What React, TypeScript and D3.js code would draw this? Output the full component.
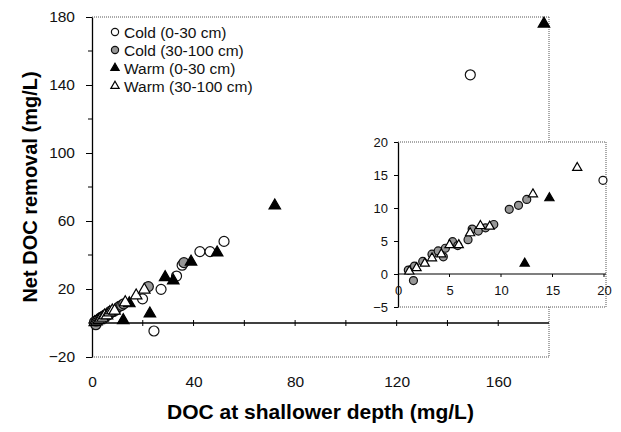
import React, { useEffect, useRef } from "react";
import * as d3 from "d3";

// [DOC at shallower depth, net DOC removal] in mg/L
const coldShallow: [number, number][] = [
  [19.9, 14.2], [24.4, -4.7], [27.2, 19.8], [33.3, 27.6], [35.5, 34],
  [42.5, 42], [46.5, 42], [52, 48], [149, 146],
];
const coldDeep: [number, number][] = [
  [1.0, 0.6], [1.5, -1.0], [1.6, 1.2], [2.4, 1.9], [3.3, 3.0], [3.9, 3.5],
  [4.4, 2.6], [4.6, 3.9], [5.3, 4.9], [5.8, 4.3], [6.8, 5.2], [7.2, 6.8],
  [7.8, 6.5], [8.5, 7.0], [9.3, 7.5], [10.8, 9.8], [11.7, 10.4], [12.5, 11.3],
  [22.2, 21.4], [36.2, 35.5],
];
const warmShallow: [number, number][] = [
  [12.3, 1.6], [14.7, 11.5], [22.8, 5.5], [28.8, 26.9], [32, 24.9],
  [39, 36], [49.3, 41.4], [72, 69], [178, 176],
];
const warmDeep: [number, number][] = [
  [1.1, 0.4], [1.8, 0.9], [2.6, 1.6], [3.3, 2.4], [4.2, 3.0], [5.0, 4.4],
  [5.9, 4.4], [7.0, 6.2], [8.0, 7.3], [8.9, 7.2], [13.1, 12.1], [17.4, 16.1],
  [20.6, 19.5],
];

const seriesNames = ["Cold (0-30 cm)", "Cold (30-100 cm)", "Warm (0-30 cm)", "Warm (30-100 cm)"];
const seriesKinds = ["openCircle", "grayCircle", "blackTri", "openTri"];

const mainXTicks = [0, 40, 80, 120, 160];
const mainYTicks = [-20, 20, 60, 100, 140, 180];
const insetXTicks = [0, 5, 10, 15, 20];
const insetYTicks = [-5, 0, 5, 10, 15, 20];

const FONT = "'Liberation Sans', Arial, Helvetica, sans-serif";

function drawMarkers(g: any, data: [number, number][], kind: string, x: any, y: any, r: number) {
  if (kind === "openCircle" || kind === "grayCircle") {
    g.selectAll(null)
      .data(data)
      .enter()
      .append("circle")
      .attr("cx", (d: [number, number]) => x(d[0]))
      .attr("cy", (d: [number, number]) => y(d[1]))
      .attr("r", r)
      .attr("fill", kind === "grayCircle" ? "#979797" : "#fff")
      .attr("stroke", "#111")
      .attr("stroke-width", 1.2);
  } else {
    const side = r * 2.3;
    const tri = d3.symbol().type(d3.symbolTriangle).size((side * side * Math.sqrt(3)) / 4);
    g.selectAll(null)
      .data(data)
      .enter()
      .append("path")
      .attr("d", tri as any)
      .attr("transform", (d: [number, number]) => "translate(" + x(d[0]) + "," + y(d[1]) + ")")
      .attr("fill", kind === "blackTri" ? "#000" : "#fff")
      .attr("stroke", "#000")
      .attr("stroke-width", 1.2)
      .attr("stroke-linejoin", "miter");
  }
}

export default function App() {
  const ref = useRef<SVGSVGElement>(null);

  useEffect(() => {
    const svg = d3.select(ref.current);
    svg.selectAll("*").remove();
    const allSeries = [coldShallow, coldDeep, warmShallow, warmDeep];

    // main chart
    const x = d3.scaleLinear().domain([0, 180]).range([92, 549]);
    const y = d3.scaleLinear().domain([-20, 180]).range([357, 17]);

    const dotted = (sel: any) =>
      sel.attr("stroke", "#555").attr("stroke-width", 1).attr("stroke-dasharray", "1,1");

    // dotted plot-area border (top, right, bottom)
    svg.append("line").attr("x1", x(0)).attr("x2", x(180)).attr("y1", y(180)).attr("y2", y(180)).call(dotted);
    svg.append("line").attr("x1", x(180)).attr("x2", x(180)).attr("y1", y(180)).attr("y2", y(-20)).call(dotted);
    svg.append("line").attr("x1", x(0)).attr("x2", x(180)).attr("y1", y(-20)).attr("y2", y(-20)).call(dotted);

    // y axis
    const yAxis = svg
      .append("g")
      .attr("transform", "translate(" + x(0) + ",0)")
      .call(d3.axisLeft(y).tickValues(mainYTicks).tickSize(6).tickSizeOuter(0).tickPadding(11));
    yAxis.select(".domain").attr("stroke", "#000").attr("stroke-width", 1.3);
    yAxis.selectAll("text").attr("font-family", FONT).attr("font-size", 15.5).attr("fill", "#111");
    svg
      .append("g")
      .selectAll("line")
      .data(d3.range(0, 180, 40))
      .enter()
      .append("line")
      .attr("x1", x(0) - 4)
      .attr("x2", x(0))
      .attr("y1", (d) => y(d))
      .attr("y2", (d) => y(d))
      .attr("stroke", "#000");

    // x axis line at zero
    svg
      .append("line")
      .attr("x1", x(0))
      .attr("x2", x(180))
      .attr("y1", y(0))
      .attr("y2", y(0))
      .attr("stroke", "#000")
      .attr("stroke-width", 1.3);
    svg
      .append("g")
      .selectAll("line")
      .data(d3.range(20, 180, 20))
      .enter()
      .append("line")
      .attr("x1", (d) => x(d))
      .attr("x2", (d) => x(d))
      .attr("y1", y(0) - 3)
      .attr("y2", y(0) + 3)
      .attr("stroke", "#000");

    // x tick labels, low position
    const xAxis = svg
      .append("g")
      .attr("transform", "translate(0," + y(-20) + ")")
      .call(d3.axisBottom(x).tickValues(mainXTicks).tickSize(0).tickPadding(19));
    xAxis.select(".domain").remove();
    xAxis.selectAll("text").attr("font-family", FONT).attr("font-size", 15.5).attr("fill", "#111");

    // titles
    svg
      .append("text")
      .attr("x", (x(0) + x(180)) / 2)
      .attr("y", 419)
      .attr("text-anchor", "middle")
      .attr("font-family", FONT)
      .attr("font-weight", "bold")
      .attr("font-size", 21)
      .text("DOC at shallower depth (mg/L)");
    svg
      .append("text")
      .attr("transform", "translate(37," + (y(-20) + y(180)) / 2 + ") rotate(-90)")
      .attr("text-anchor", "middle")
      .attr("font-family", FONT)
      .attr("font-weight", "bold")
      .attr("font-size", 20)
      .text("Net DOC removal (mg/L)");

    const mainPts = svg.append("g");
    allSeries.forEach((s, i) => drawMarkers(mainPts, s, seriesKinds[i], x, y, 5));

    // legend
    const leg = svg.append("g");
    seriesNames.forEach((name, i) => {
      const ly = 32 + i * 18;
      const fake = d3.scaleLinear().domain([0, 1]).range([115, 116]);
      const fakeY = d3.scaleLinear().domain([0, 1]).range([ly, ly + 1]);
      drawMarkers(leg, [[0, 0]], seriesKinds[i], fake, fakeY, 3.6);
      leg
        .append("text")
        .attr("x", 124)
        .attr("y", ly)
        .attr("dy", "0.36em")
        .attr("font-family", FONT)
        .attr("font-size", 15.5)
        .attr("fill", "#111")
        .text(name);
    });

    // inset
    const ix = d3.scaleLinear().domain([0, 20]).range([398, 604]);
    const iy = d3.scaleLinear().domain([-5, 20]).range([307, 142]);
    const inset = svg.append("g");
    inset
      .append("rect")
      .attr("x", ix(0))
      .attr("y", iy(20))
      .attr("width", ix(20) - ix(0) + 2)
      .attr("height", iy(-5) - iy(20))
      .attr("fill", "#fff");
    inset.append("line").attr("x1", ix(0)).attr("x2", ix(20) + 2).attr("y1", iy(20)).attr("y2", iy(20)).call(dotted);
    inset.append("line").attr("x1", ix(20) + 2).attr("x2", ix(20) + 2).attr("y1", iy(20)).attr("y2", iy(-5)).call(dotted);
    inset.append("line").attr("x1", ix(0)).attr("x2", ix(20) + 2).attr("y1", iy(-5)).attr("y2", iy(-5)).call(dotted);

    const iyAxis = inset
      .append("g")
      .attr("transform", "translate(" + ix(0) + ",0)")
      .call(d3.axisLeft(iy).tickValues(insetYTicks).tickSize(4).tickSizeOuter(0).tickPadding(6));
    iyAxis.select(".domain").attr("stroke", "#000").attr("stroke-width", 1.3);
    iyAxis.selectAll("text").attr("font-family", FONT).attr("font-size", 13).attr("fill", "#111");

    inset
      .append("line")
      .attr("x1", ix(0))
      .attr("x2", ix(20) + 2)
      .attr("y1", iy(0))
      .attr("y2", iy(0))
      .attr("stroke", "#000")
      .attr("stroke-width", 1.2);
    inset
      .append("g")
      .selectAll("line")
      .data(insetXTicks.slice(1))
      .enter()
      .append("line")
      .attr("x1", (d) => ix(d))
      .attr("x2", (d) => ix(d))
      .attr("y1", iy(0))
      .attr("y2", iy(0) + 3)
      .attr("stroke", "#000");

    const ixAxis = inset
      .append("g")
      .attr("transform", "translate(0," + iy(0) + ")")
      .call(d3.axisBottom(ix).tickValues(insetXTicks).tickSize(0).tickPadding(12));
    ixAxis.select(".domain").remove();
    ixAxis.selectAll("text").attr("font-family", FONT).attr("font-size", 13).attr("fill", "#111");

    const insetPts = inset.append("g");
    allSeries.forEach((s, i) =>
      drawMarkers(
        insetPts,
        s.filter((d) => d[0] <= 20.2 && d[1] <= 20),
        seriesKinds[i],
        ix,
        iy,
        4
      )
    );
  }, []);

  return (
    <div style={{ position: "absolute", left: 0, top: 0 }}>
      <svg ref={ref} width={621} height={432} style={{ display: "block", background: "#fff" }} />
    </div>
  );
}
